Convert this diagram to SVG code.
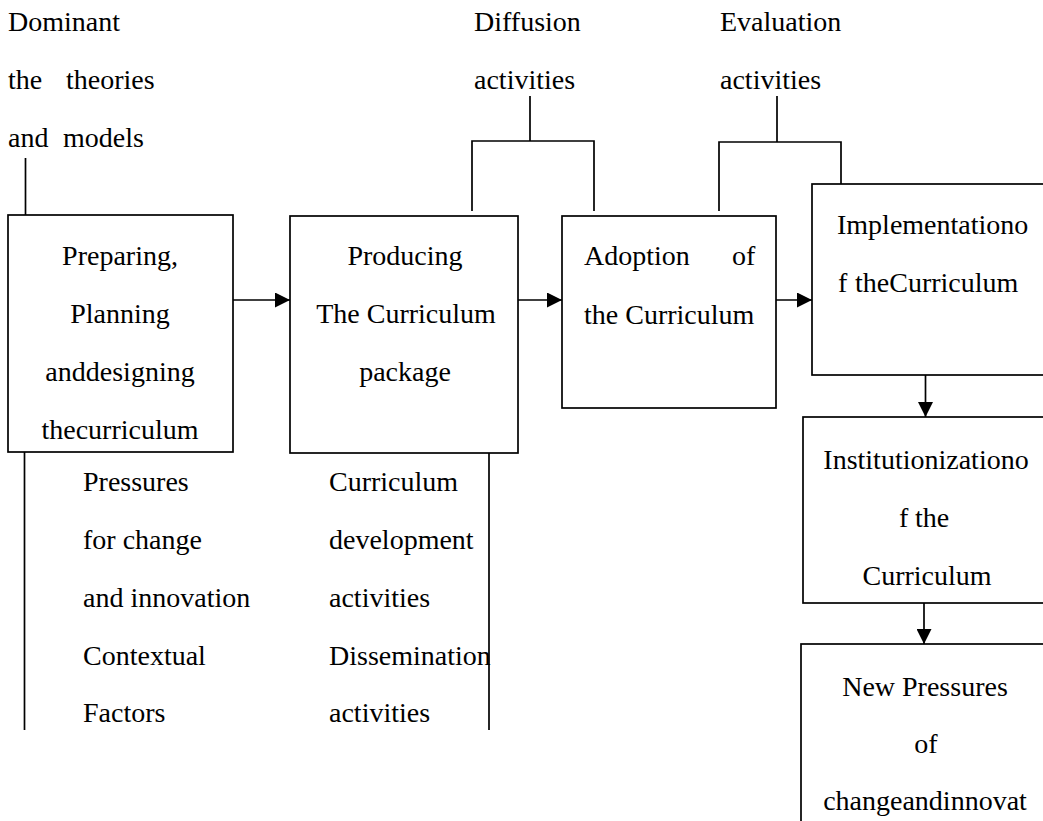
<svg xmlns="http://www.w3.org/2000/svg" width="1043" height="821" viewBox="0 0 1043 821">
  <style>
    text { font-family: "Liberation Serif", "Times New Roman", serif; font-size: 28px; fill: #000; }
    .c { text-anchor: middle; }
    .box { fill: #fff; stroke: #000; stroke-width: 1.7; }
    .ln { fill: none; stroke: #000; stroke-width: 1.7; }
  </style>
  <defs>
    <marker id="arrow" markerWidth="15" markerHeight="15" refX="15" refY="7.5" orient="auto" markerUnits="userSpaceOnUse">
      <path d="M0,0 L15,7.5 L0,15 Z" fill="#000"/>
    </marker>
  </defs>
  <rect width="1043" height="821" fill="#fff"/>

  <!-- labels above the chain -->
  <g id="label-theories">
    <text x="8" y="31">Dominant</text>
    <text y="89"><tspan x="8">the</tspan><tspan x="66">theories</tspan></text>
    <text y="147"><tspan x="8">and</tspan><tspan x="63">models</tspan></text>
  </g>
  <g id="label-diffusion">
    <text x="474" y="31">Diffusion</text>
    <text x="474" y="89">activities</text>
  </g>
  <g id="label-evaluation">
    <text x="720" y="31">Evaluation</text>
    <text x="720" y="89">activities</text>
  </g>

  <!-- connectors -->
  <g id="connectors">
    <line class="ln" x1="25.5" y1="158" x2="25.5" y2="215"/>
    <path class="ln" d="M530,96 V141 M472,211 V141 H594 V211"/>
    <path class="ln" d="M777,96 V142 M719,211 V142 H841 V184"/>
    <line class="ln" x1="233" y1="300" x2="290" y2="300" marker-end="url(#arrow)"/>
    <line class="ln" x1="518" y1="300" x2="562" y2="300" marker-end="url(#arrow)"/>
    <line class="ln" x1="776" y1="300" x2="812" y2="300" marker-end="url(#arrow)"/>
    <line class="ln" x1="925.5" y1="375" x2="925.5" y2="417" marker-end="url(#arrow)"/>
    <line class="ln" x1="924" y1="603" x2="924" y2="644" marker-end="url(#arrow)"/>
    <line class="ln" x1="24.5" y1="452" x2="24.5" y2="730"/>
    <line class="ln" x1="489" y1="453" x2="489" y2="730"/>
  </g>

  <g id="node-preparing">
    <rect class="box" x="8" y="215" width="225" height="237"/>
    <text class="c" x="120" y="265">Preparing,</text>
    <text class="c" x="120" y="323">Planning</text>
    <text class="c" x="120" y="381">anddesigning</text>
    <text class="c" x="120" y="439">thecurriculum</text>
  </g>

  <g id="node-producing">
    <rect class="box" x="290" y="216" width="228" height="237"/>
    <text class="c" x="405" y="265">Producing</text>
    <text class="c" x="406" y="323">The Curriculum</text>
    <text class="c" x="405" y="381">package</text>
  </g>

  <g id="node-adoption">
    <rect class="box" x="562" y="216" width="214" height="192"/>
    <text y="265"><tspan x="584">Adoption</tspan><tspan x="732">of</tspan></text>
    <text x="584" y="324">the Curriculum</text>
  </g>

  <g id="node-implementation">
    <rect class="box" x="812" y="184" width="240" height="191"/>
    <text x="837" y="234">Implementationo</text>
    <text y="292"><tspan x="838">f</tspan><tspan x="855">theCurriculum</tspan></text>
  </g>

  <g id="node-institutionization">
    <rect class="box" x="803" y="417" width="250" height="186"/>
    <text class="c" x="926" y="469">Institutionizationo</text>
    <text y="527"><tspan x="899">f</tspan><tspan x="915">the</tspan></text>
    <text class="c" x="927" y="585">Curriculum</text>
  </g>

  <g id="node-new-pressures">
    <rect class="box" x="801" y="644" width="252" height="190"/>
    <text class="c" x="925" y="696">New Pressures</text>
    <text class="c" x="926" y="753">of</text>
    <text class="c" x="925" y="810">changeandinnovat</text>
  </g>

  <!-- side notes under the first two stages -->
  <g id="note-pressures">
    <text x="83" y="491">Pressures</text>
    <text x="83" y="549">for change</text>
    <text x="83" y="607">and innovation</text>
    <text x="83" y="665">Contextual</text>
    <text x="83" y="722">Factors</text>
  </g>
  <g id="note-activities">
    <text x="329" y="491">Curriculum</text>
    <text x="329" y="549">development</text>
    <text x="329" y="607">activities</text>
    <text x="329" y="665">Dissemination</text>
    <text x="329" y="722">activities</text>
  </g>
</svg>
